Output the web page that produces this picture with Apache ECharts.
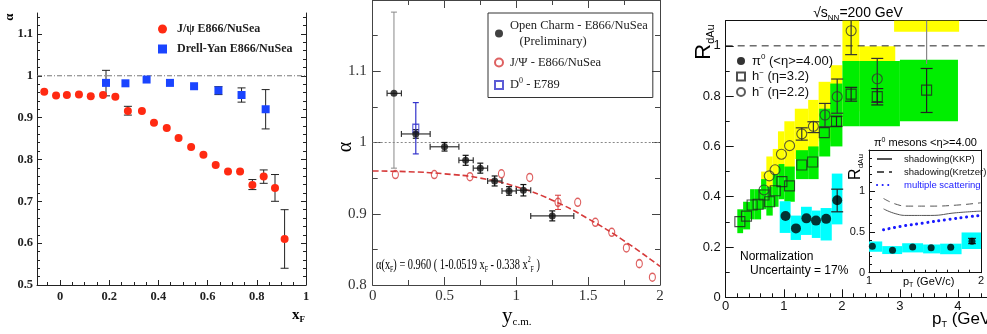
<!DOCTYPE html>
<html><head><meta charset="utf-8">
<script src="https://cdn.jsdelivr.net/npm/echarts@6.0.0/dist/echarts.min.js"></script>
<style>html,body{margin:0;padding:0;background:#fff;}#c{width:987px;height:334px;}</style>
</head><body><div id="c"></div>
<script>
// ================= Panel 1 : alpha vs x_F =================
const p1XTicks = [0, 0.2, 0.4, 0.6, 0.8, 1];
const p1YTicks = [0.5, 0.6, 0.7, 0.8, 0.9, 1, 1.1];
const p1Jpsi = [[-0.064,0.962],[-0.016,0.953],[0.028,0.954],[0.077,0.955],[0.125,0.951],[0.175,0.954],[0.225,0.950],[0.276,0.916],[0.333,0.916],[0.382,0.888],[0.434,0.875],[0.482,0.851],[0.533,0.830],[0.583,0.811],[0.633,0.787],[0.683,0.771],[0.732,0.771],[0.782,0.739],[0.828,0.759],[0.874,0.732],[0.913,0.610]];
const p1JpsiErr = [[0.276,0.906,0.927],[0.782,0.728,0.752],[0.828,0.743,0.775],[0.874,0.700,0.764],[0.913,0.540,0.680]];
const p1Dy = [[0.187,0.983],[0.266,0.982],[0.352,0.991],[0.447,0.983],[0.545,0.975],[0.644,0.965],[0.738,0.954],[0.836,0.920]];
const p1DyErr = [[0.187,0.952,1.013],[0.644,0.955,0.974],[0.738,0.937,0.971],[0.836,0.873,0.967]];
const p1Unity = [[-0.0935,1],[1,1]];

// ================= Panel 2 : alpha vs y_cm =================
const p2XTicks = [0, 0.5, 1, 1.5, 2];
const p2YTicks = [0.8, 0.9, 1, 1.1];
const p2Charm = [[0.148,1.069],[0.30,1.012],[0.50,0.994],[0.647,0.975],[0.749,0.964],[0.849,0.946],[0.949,0.932],[1.049,0.933],[1.25,0.897]];
const p2CharmYErrBig = [[0.148,0.964,1.183]];
const p2CharmYErr = [[0.30,1.006,1.018],[0.50,0.988,1.000],[0.647,0.968,0.982],[0.749,0.957,0.971],[0.849,0.939,0.953],[0.949,0.926,0.938],[1.049,0.925,0.941],[1.25,0.890,0.904]];
const p2CharmXErr = [[0.10,0.20,1.069],[0.20,0.40,1.012],[0.40,0.60,0.994],[0.60,0.70,0.975],[0.70,0.80,0.964],[0.80,0.90,0.946],[0.90,1.00,0.932],[1.00,1.10,0.933],[1.10,1.40,0.897]];
const p2Jpsi = [[0.158,0.955],[0.429,0.955],[0.677,0.952],[0.896,0.956],[1.093,0.951],[1.29,0.916],[1.427,0.916],[1.55,0.888],[1.664,0.874],[1.766,0.852],[1.856,0.830],[1.947,0.811]];
const p2JpsiErr = [[1.29,0.906,0.926]];
const p2D0 = [[0.30,1.02]];
const p2D0Err = [[0.30,0.984,1.056]];
const p2Fit = [[0,0.960],[0.25,0.959],[0.5,0.956],[0.75,0.950],[1.0,0.938],[1.25,0.919],[1.5,0.893],[1.75,0.862],[2.0,0.826]];
const p2Unity = [[0,1],[2,1]];

// ================= Panel 3 : R_dAu vs pT =================
const p3XTicks = [0, 1, 2, 3, 4];
const p3YTicks = [0, 0.2, 0.4, 0.6, 0.8, 1];
const p3Pi0 = [[1.03,0.323],[1.21,0.274],[1.39,0.314],[1.555,0.305],[1.73,0.312],[1.92,0.386]];
const p3Pi0Err = [[1.92,0.34,0.43]];
const p3Pi0Box = [[0.93,1.118,0.256,0.382],[1.118,1.296,0.228,0.325],[1.296,1.483,0.248,0.36],[1.483,1.635,0.236,0.345],[1.635,1.827,0.226,0.355],[1.827,2.01,0.29,0.492]];
const p3H32 = [[0.244,0.301],[0.358,0.323],[0.455,0.367],[0.558,0.370],[0.66,0.407],[0.757,0.380],[0.854,0.424],[0.968,0.460],[1.099,0.443],[1.31,0.526],[1.498,0.538],[1.697,0.655],[1.908,0.698],[2.16,0.808],[2.61,0.798],[3.46,0.824]];
const p3H32Err = [[1.908,0.68,0.72],[2.16,0.78,0.835],[2.61,0.765,0.83],[3.46,0.735,0.91]];
const p3H32Box = [[0.20,0.30,0.255,0.35],[0.30,0.42,0.27,0.38],[0.42,0.50,0.31,0.43],[0.50,0.61,0.31,0.43],[0.61,0.70,0.35,0.47],[0.70,0.81,0.325,0.44],[0.81,0.91,0.36,0.49],[0.91,1.01,0.39,0.53],[1.01,1.19,0.38,0.52],[1.21,1.42,0.47,0.585],[1.42,1.60,0.47,0.60],[1.61,1.80,0.56,0.75],[1.80,2.01,0.60,0.85],[2.01,2.30,0.68,0.94],[2.30,3.00,0.68,0.94],[3.00,4.00,0.70,0.945]];
const p3H22 = [[0.66,0.427],[0.75,0.483],[0.85,0.507],[0.96,0.569],[1.10,0.603],[1.31,0.650],[1.51,0.680],[1.71,0.725],[1.92,0.798],[2.16,1.06],[2.61,0.869]];
const p3H22Err = [[1.31,0.625,0.674],[1.51,0.655,0.698],[1.71,0.678,0.771],[1.92,0.732,0.868],[2.16,0.965,1.2],[2.61,0.775,0.95]];
const p3H22ErrOff = [[3.46,0.928,1.2]];
const p3H22Box = [[0.61,0.70,0.36,0.50],[0.70,0.81,0.41,0.56],[0.81,0.90,0.43,0.59],[0.90,1.01,0.48,0.66],[1.01,1.19,0.51,0.70],[1.19,1.42,0.55,0.75],[1.42,1.60,0.58,0.785],[1.60,1.81,0.62,0.857],[1.81,2.01,0.68,0.923],[2.01,2.30,0.93,1.2],[2.30,2.92,0.74,0.998],[2.90,4.02,1.056,1.2]];
const p3Unity = [[0,1],[4.5,1]];

// ---- inset
const inXTicks = [1, 2];
const inYTicks = [0, 0.5, 1];
const inKKP = [[1.13,0.78],[1.24,0.72],[1.35,0.70],[1.55,0.70],[1.78,0.733],[2.0,0.753]];
const inKretzer = [[1.13,0.907],[1.24,0.838],[1.35,0.814],[1.55,0.814],[1.78,0.826],[2.0,0.855]];
const inMultScat = [[1.13,0.525],[1.3,0.57],[1.5,0.61],[1.7,0.65],[1.9,0.685],[2.0,0.70]];
const inPi0 = p3Pi0;
const inPi0Err = [[1.92,0.355,0.42]];

// ================= helpers =================
const SERIF = '"Liberation Serif", "DejaVu Serif", serif';
const SANS = '"Liberation Sans", Arial, sans-serif';
function range(a, b, s) { const r = []; for (let i = 0; a + i * s <= b + 1e-9; i++) r.push(+(a + i * s).toFixed(4)); return r; }
function minorOf(a, b, s, major) { return range(a, b, s).filter(v => !major.some(m => Math.abs(m - v) < 1e-6)); }
function fmt(v) { return String(+(+v).toFixed(3)); }

const xAxes = [], yAxes = [];
function ax(arr, o) {
  arr.push({
    type: 'value', gridIndex: o.gi, position: o.pos, min: o.min, max: o.max,
    axisLine: { show: o.line !== false, onZero: false, lineStyle: { color: o.lc || '#222', width: o.lw || 1 } },
    axisTick: { show: !!o.ticks, inside: true, length: o.len || 5, customValues: o.ticks || [], lineStyle: { color: o.lc || '#222', width: o.tw || 1 } },
    axisLabel: Object.assign({ show: !!o.labels, customValues: o.labels || [], margin: o.margin || 4, formatter: fmt }, o.font || {}),
    splitLine: { show: false }, axisPointer: { show: false }, silent: true
  });
  return arr.length - 1;
}

function vErr(cap, color, lw) {
  return function (params, api) {
    const cs = params.coordSys;
    const x = api.value(0), lo = api.value(1), hi = api.value(2);
    const a = api.coord([x, lo]), b = api.coord([x, hi]);
    const top = cs.y, bot = cs.y + cs.height;
    const ya = Math.min(Math.max(a[1], top), bot), yb = Math.min(Math.max(b[1], top), bot);
    const st = { stroke: color, lineWidth: lw };
    const ch = [{ type: 'line', shape: { x1: a[0], y1: ya, x2: a[0], y2: yb }, style: st }];
    if (cap > 0 && b[1] > top + 0.5) ch.push({ type: 'line', shape: { x1: b[0] - cap / 2, y1: b[1], x2: b[0] + cap / 2, y2: b[1] }, style: st });
    if (cap > 0 && a[1] < bot - 0.5) ch.push({ type: 'line', shape: { x1: a[0] - cap / 2, y1: a[1], x2: a[0] + cap / 2, y2: a[1] }, style: st });
    return { type: 'group', children: ch };
  };
}
function hErr(cap, color, lw) {
  return function (params, api) {
    const a = api.coord([api.value(0), api.value(2)]), b = api.coord([api.value(1), api.value(2)]);
    const st = { stroke: color, lineWidth: lw };
    return { type: 'group', children: [
      { type: 'line', shape: { x1: a[0], y1: a[1], x2: b[0], y2: b[1] }, style: st },
      { type: 'line', shape: { x1: a[0], y1: a[1] - cap / 2, x2: a[0], y2: a[1] + cap / 2 }, style: st },
      { type: 'line', shape: { x1: b[0], y1: b[1] - cap / 2, x2: b[0], y2: b[1] + cap / 2 }, style: st }
    ] };
  };
}
function boxRender(params, api) {
  const a = api.coord([api.value(0), api.value(3)]);
  const b = api.coord([api.value(1), api.value(2)]);
  const cs = params.coordSys;
  const r = echarts.graphic.clipRectByRect({ x: a[0], y: a[1], width: b[0] - a[0], height: b[1] - a[1] }, { x: cs.x, y: cs.y, width: cs.width, height: cs.height });
  return r ? { type: 'rect', shape: r, style: { fill: api.visual('color') } } : null;
}
function custom(xi, yi, data, render, color, z, enc) {
  return { type: 'custom', xAxisIndex: xi, yAxisIndex: yi, data: data, renderItem: render, itemStyle: { color: color }, z: z, silent: true, animation: false, encode: enc };
}

// ================= axes =================
const f1 = { fontFamily: SERIF, fontWeight: 'bold', fontSize: 12.5, color: '#222' };
const p1x = ax(xAxes, { gi: 0, pos: 'bottom', min: -0.0935, max: 1, ticks: p1XTicks, len: 5, labels: p1XTicks, font: f1, margin: 5 });
ax(xAxes, { gi: 0, pos: 'bottom', min: -0.0935, max: 1, ticks: minorOf(-0.05, 1, 0.05, p1XTicks), len: 3, line: false });
const p1y = ax(yAxes, { gi: 0, pos: 'left', min: 0.5, max: 1.15, ticks: p1YTicks, len: 5, labels: p1YTicks, font: f1, margin: 4 });
ax(yAxes, { gi: 0, pos: 'left', min: 0.5, max: 1.15, ticks: minorOf(0.5, 1.14, 0.02, p1YTicks), len: 3, line: false });
ax(yAxes, { gi: 0, pos: 'right', min: 0.5, max: 1.15, ticks: p1YTicks, len: 5 });
ax(yAxes, { gi: 0, pos: 'right', min: 0.5, max: 1.15, ticks: minorOf(0.5, 1.14, 0.02, p1YTicks), len: 3, line: false });

const f2 = { fontFamily: SERIF, fontSize: 15, color: '#333' };
const p2x = ax(xAxes, { gi: 1, pos: 'bottom', min: 0, max: 2, ticks: p2XTicks, len: 8, labels: p2XTicks, font: f2, margin: 4, lc: '#444' });
ax(xAxes, { gi: 1, pos: 'bottom', min: 0, max: 2, ticks: [0.25, 0.75, 1.25, 1.75], len: 5, line: false, lc: '#444' });
ax(xAxes, { gi: 1, pos: 'top', min: 0, max: 2, ticks: p2XTicks, len: 8, lc: '#444' });
ax(xAxes, { gi: 1, pos: 'top', min: 0, max: 2, ticks: [0.25, 0.75, 1.25, 1.75], len: 5, line: false, lc: '#444' });
const p2y = ax(yAxes, { gi: 1, pos: 'left', min: 0.8, max: 1.2, ticks: p2YTicks, len: 8, labels: p2YTicks, font: f2, margin: 6, lc: '#444' });
ax(yAxes, { gi: 1, pos: 'left', min: 0.8, max: 1.2, ticks: [0.85, 0.95, 1.05, 1.15], len: 5, line: false, lc: '#444' });
ax(yAxes, { gi: 1, pos: 'right', min: 0.8, max: 1.2, ticks: p2YTicks, len: 8, lc: '#444' });
ax(yAxes, { gi: 1, pos: 'right', min: 0.8, max: 1.2, ticks: [0.85, 0.95, 1.05, 1.15], len: 5, line: false, lc: '#444' });

const f3 = { fontFamily: SANS, fontSize: 13, color: '#111' };
const p3x = ax(xAxes, { gi: 2, pos: 'bottom', min: 0, max: 4.5, ticks: p3XTicks, len: 8, labels: p3XTicks, font: f3, margin: 3, lc: '#111' });
ax(xAxes, { gi: 2, pos: 'bottom', min: 0, max: 4.5, ticks: minorOf(0, 4.4, 0.2, p3XTicks), len: 4, line: false, lc: '#111' });
ax(xAxes, { gi: 2, pos: 'top', min: 0, max: 4.5, lc: '#111' });
const p3y = ax(yAxes, { gi: 2, pos: 'left', min: 0, max: 1.1, ticks: p3YTicks, len: 8, labels: p3YTicks, font: f3, margin: 5, lc: '#111' });
ax(yAxes, { gi: 2, pos: 'left', min: 0, max: 1.1, ticks: minorOf(0, 1.1, 0.1, p3YTicks), len: 4, line: false, lc: '#111' });

const f4 = { fontFamily: SANS, fontSize: 11, color: '#111' };
const inx = ax(xAxes, { gi: 3, pos: 'bottom', min: 1, max: 2, ticks: inXTicks, len: 6, labels: inXTicks, font: f4, margin: 3, lc: '#111' });
ax(xAxes, { gi: 3, pos: 'bottom', min: 1, max: 2, ticks: minorOf(1, 2, 0.1, inXTicks), len: 3, line: false, lc: '#111' });
ax(xAxes, { gi: 3, pos: 'top', min: 1, max: 2, lc: '#111' });
const iny = ax(yAxes, { gi: 3, pos: 'left', min: 0, max: 1.5, ticks: inYTicks, len: 6, labels: inYTicks, font: f4, margin: 4, lc: '#111' });
ax(yAxes, { gi: 3, pos: 'left', min: 0, max: 1.5, ticks: minorOf(0, 1.5, 0.1, inYTicks), len: 3, line: false, lc: '#111' });
ax(yAxes, { gi: 3, pos: 'right', min: 0, max: 1.5, lc: '#111' });

// ================= series =================
const RED1 = '#ff2a12', BLUE1 = '#1a44ff';
const NOFILL = 'rgba(0,0,0,0)';
const series = [
  // panel 1
  { type: 'line', name: 'unity1', xAxisIndex: p1x, yAxisIndex: p1y, data: p1Unity, symbol: 'none', lineStyle: { color: '#777', width: 1, type: [5, 2, 1, 2] }, z: 1, silent: true },
  custom(p1x, p1y, p1JpsiErr, vErr(8, '#222', 1), '#222', 3),
  custom(p1x, p1y, p1DyErr, vErr(8, '#222', 1), '#222', 3),
  { type: 'scatter', name: 'J/ψ E866/NuSea', xAxisIndex: p1x, yAxisIndex: p1y, data: p1Jpsi, symbol: 'circle', symbolSize: 8, itemStyle: { color: RED1, opacity: 1 }, z: 5 },
  { type: 'scatter', name: 'Drell-Yan E866/NuSea', xAxisIndex: p1x, yAxisIndex: p1y, data: p1Dy, symbol: 'rect', symbolSize: 8, itemStyle: { color: BLUE1, opacity: 1 }, z: 5 },
  // panel 2
  { type: 'line', name: 'unity2', xAxisIndex: p2x, yAxisIndex: p2y, data: p2Unity, symbol: 'none', lineStyle: { color: '#888', width: 1, type: [2, 2] }, z: 1, silent: true },
  { type: 'line', name: 'fit', xAxisIndex: p2x, yAxisIndex: p2y, data: p2Fit, symbol: 'none', smooth: true, lineStyle: { color: '#d63a3a', width: 1.6, type: [6, 3] }, z: 2, silent: true },
  custom(p2x, p2y, p2CharmYErrBig, vErr(6, '#888', 1), '#888', 3),
  custom(p2x, p2y, p2CharmYErr, vErr(6, '#111', 1.2), '#111', 3),
  custom(p2x, p2y, p2CharmXErr, hErr(6, '#333', 1.2), '#333', 3, { x: [0, 1], y: 2 }),
  custom(p2x, p2y, p2JpsiErr, vErr(6, '#d63a3a', 1), '#d63a3a', 3),
  custom(p2x, p2y, p2D0Err, vErr(6, '#3333cc', 1.2), '#3333cc', 3),
  { type: 'scatter', name: 'J/Ψ - E866/NuSea', xAxisIndex: p2x, yAxisIndex: p2y, data: p2Jpsi, symbol: 'circle', symbolSize: [6, 8], itemStyle: { color: NOFILL, borderColor: '#d63a3a', borderWidth: 1.3 }, z: 4 },
  { type: 'scatter', name: 'D0 - E789', xAxisIndex: p2x, yAxisIndex: p2y, data: p2D0, symbol: 'rect', symbolSize: [6, 8], itemStyle: { color: NOFILL, borderColor: '#3333cc', borderWidth: 1.3 }, z: 4 },
  { type: 'scatter', name: 'Open Charm - E866/NuSea', xAxisIndex: p2x, yAxisIndex: p2y, data: p2Charm, symbol: 'circle', symbolSize: 7, itemStyle: { color: '#111' }, z: 5 },
  // panel 3
  custom(p3x, p3y, p3H22Box, boxRender, '#ffff00', 1, { x: [0, 1], y: [2, 3] }),
  custom(p3x, p3y, p3H32Box, boxRender, '#00ee00', 1.1, { x: [0, 1], y: [2, 3] }),
  custom(p3x, p3y, p3Pi0Box, boxRender, '#00ffff', 1.2, { x: [0, 1], y: [2, 3] }),
  { type: 'line', name: 'unity3', xAxisIndex: p3x, yAxisIndex: p3y, data: p3Unity, symbol: 'none', lineStyle: { color: '#222', width: 1, type: [7, 5] }, z: 2, silent: true },
  custom(p3x, p3y, p3H22ErrOff, vErr(0, '#888', 1.2), '#888', 3),
  custom(p3x, p3y, p3H22Err, vErr(12, '#333', 1.2), '#333', 3),
  custom(p3x, p3y, p3H32Err, vErr(12, '#222', 1.2), '#222', 3),
  custom(p3x, p3y, p3Pi0Err, vErr(12, '#222', 1.2), '#222', 3),
  { type: 'scatter', name: 'pi0', xAxisIndex: p3x, yAxisIndex: p3y, data: p3Pi0, symbol: 'circle', symbolSize: 10, itemStyle: { color: '#000' }, z: 5 },
  { type: 'scatter', name: 'h32', xAxisIndex: p3x, yAxisIndex: p3y, data: p3H32, symbol: 'rect', symbolSize: 10, itemStyle: { color: NOFILL, borderColor: '#222', borderWidth: 1.1 }, z: 5 },
  { type: 'scatter', name: 'h22', xAxisIndex: p3x, yAxisIndex: p3y, data: p3H22, symbol: 'circle', symbolSize: 10, itemStyle: { color: NOFILL, borderColor: '#333', borderWidth: 1.1 }, z: 5 },
  // inset
  custom(inx, iny, p3Pi0Box, boxRender, '#00ffff', 1, { x: [0, 1], y: [2, 3] }),
  { type: 'line', name: 'shadowing(KKP)', xAxisIndex: inx, yAxisIndex: iny, data: inKKP, symbol: 'none', smooth: true, itemStyle: { color: NOFILL }, lineStyle: { color: '#555', width: 1 }, z: 2 },
  { type: 'line', name: 'shadowing(Kretzer)', xAxisIndex: inx, yAxisIndex: iny, data: inKretzer, symbol: 'none', smooth: true, itemStyle: { color: NOFILL }, lineStyle: { color: '#555', width: 1, type: [7, 5] }, z: 2 },
  { type: 'line', name: 'multiple scattering', xAxisIndex: inx, yAxisIndex: iny, data: inMultScat, symbol: 'none', smooth: true, itemStyle: { color: NOFILL }, lineStyle: { color: '#1a1aff', width: 3, type: [0.1, 5.5], cap: 'round' }, z: 2 },
  custom(inx, iny, inPi0Err, vErr(8, '#222', 1.1), '#222', 3),
  { type: 'scatter', name: 'pi0 inset', xAxisIndex: inx, yAxisIndex: iny, data: inPi0, symbol: 'circle', symbolSize: 7, itemStyle: { color: '#000' }, z: 5 }
];

// ================= legends =================
const legends = [
  { left: 153, top: 18, orient: 'vertical', itemGap: 8, itemWidth: 9, itemHeight: 9, selectedMode: false,
    data: ['J/ψ E866/NuSea', 'Drell-Yan E866/NuSea'],
    textStyle: { fontFamily: SERIF, fontWeight: 'bold', fontSize: 12, color: '#222', padding: [0, 0, 0, 5] } },
  { left: 488, top: 13, orient: 'vertical', itemGap: 8, itemWidth: 8, itemHeight: 8, selectedMode: false,
    borderColor: '#333', borderWidth: 1, padding: [6, 5, 6, 6],
    data: ['Open Charm - E866/NuSea', 'J/Ψ - E866/NuSea', 'D0 - E789'],
    formatter: n => n === 'Open Charm - E866/NuSea' ? '{n|Open Charm - E866/NuSea}\n{n|   (Preliminary)}' : (n === 'D0 - E789' ? '{n|D}{s|0}{n| - E789}' : '{n|' + n + '}'),
    textStyle: { fontFamily: SERIF, fontSize: 12.5, color: '#222', padding: [0, 0, 0, 2],
      rich: { n: { fontFamily: SERIF, fontSize: 12.5, lineHeight: 16, color: '#222' }, s: { fontFamily: SERIF, fontSize: 8, lineHeight: 9, verticalAlign: 'top', color: '#222' } } } },
  { left: 731, top: 48, orient: 'vertical', itemGap: 1, itemWidth: 8, itemHeight: 8, selectedMode: false,
    data: ['pi0', 'h32', 'h22'],
    formatter: n => n === 'pi0' ? '{n|π}{s|0}{n| (<η>=4.00)}' : (n === 'h32' ? '{n|h}{s|−}{n| (η=3.2)}' : '{n|h}{s|−}{n| (η=2.2)}'),
    textStyle: { fontFamily: SANS, fontSize: 13, color: '#111', padding: [0, 0, 0, 2],
      rich: { n: { fontFamily: SANS, fontSize: 13, lineHeight: 16, color: '#111' }, s: { fontFamily: SANS, fontSize: 8, lineHeight: 9, verticalAlign: 'top', color: '#111' } } } },
  { left: 871, top: 148, orient: 'vertical', itemGap: 1, itemWidth: 15, itemHeight: 10, selectedMode: false,
    itemStyle: { color: NOFILL, borderWidth: 0 },
    data: ['shadowing(KKP)', 'shadowing(Kretzer)', { name: 'multiple scattering', textStyle: { color: '#1a1aff' } }],
    textStyle: { fontFamily: SANS, fontSize: 9.5, color: '#111', padding: [0, 0, 0, 7], lineHeight: 12 } }
];

// ================= text annotations =================
function txt(x, y, text, rich, extra) {
  return Object.assign({ type: 'text', x: x, y: y, silent: true, z: 10,
    style: { text: text, rich: rich, align: 'left', verticalAlign: 'middle', textAlign: 'left', textVerticalAlign: 'middle' } }, extra || {});
}
function ctr(el) { el.style.align = 'center'; el.style.textAlign = 'center'; return el; }
const graphics = [
  ctr(txt(10, 17, '{a|α}', { a: { fontFamily: SERIF, fontWeight: 'bold', fontSize: 13, color: '#222' } }, { rotation: Math.PI / 2 })),
  txt(292, 315, '{a|x}{b|F}', { a: { fontFamily: SERIF, fontWeight: 'bold', fontSize: 15, lineHeight: 18, color: '#222' }, b: { fontFamily: SERIF, fontWeight: 'bold', fontSize: 9, lineHeight: 10, verticalAlign: 'bottom', color: '#222' } }),
  ctr(txt(346, 147, '{a|α}', { a: { fontFamily: SERIF, fontSize: 20, color: '#222' } }, { rotation: Math.PI / 2 })),
  txt(502, 316, '{a|y}{b|c.m.}', { a: { fontFamily: SERIF, fontSize: 21, lineHeight: 24, color: '#222' }, b: { fontFamily: SERIF, fontSize: 11, lineHeight: 12, verticalAlign: 'bottom', color: '#222' } }),
  txt(376, 265, '{a|α(x}{b|F}{a|) = 0.960 ( 1-0.0519 x}{b|F}{a| - 0.338 x}{c|2}{b|F}{a| )}', {
    a: { fontFamily: SERIF, fontSize: 14, lineHeight: 18, color: '#d63a3a' },
    b: { fontFamily: SERIF, fontSize: 8, lineHeight: 9, verticalAlign: 'bottom', color: '#d63a3a' },
    c: { fontFamily: SERIF, fontSize: 8, lineHeight: 9, verticalAlign: 'top', color: '#d63a3a' } }, { scaleX: 0.74 }),
  ctr(txt(858, 13, '{a|√s}{b|NN}{a|=200 GeV}', { a: { fontFamily: SANS, fontSize: 14, lineHeight: 18, color: '#111' }, b: { fontFamily: SANS, fontSize: 8, lineHeight: 9, verticalAlign: 'bottom', color: '#111' } })),
  ctr(txt(704, 42, '{a|R}{b|dAu}', { a: { fontFamily: SANS, fontSize: 22, lineHeight: 24, color: '#111' }, b: { fontFamily: SANS, fontSize: 11, lineHeight: 12, verticalAlign: 'bottom', color: '#111' } }, { rotation: Math.PI / 2 })),
  txt(932, 319, '{a|p}{b|T}{a| (GeV/c)}', { a: { fontFamily: SANS, fontSize: 17, lineHeight: 20, color: '#111' }, b: { fontFamily: SANS, fontSize: 9, lineHeight: 10, verticalAlign: 'bottom', color: '#111' } }),
  txt(740, 257, '{a|Normalization}', { a: { fontFamily: SANS, fontSize: 12, color: '#111' } }),
  txt(750, 271, '{a|Uncertainty = 17%}', { a: { fontFamily: SANS, fontSize: 12, color: '#111' } }),
  txt(874, 143, '{a|π}{s|0}{a| mesons <η>=4.00}', { a: { fontFamily: SANS, fontSize: 11, lineHeight: 13, color: '#111' }, s: { fontFamily: SANS, fontSize: 7, lineHeight: 7, verticalAlign: 'top', color: '#111' } }),
  ctr(txt(856, 167, '{a|R}{b|dAu}', { a: { fontFamily: SANS, fontSize: 16, lineHeight: 18, color: '#111' }, b: { fontFamily: SANS, fontSize: 8, lineHeight: 9, verticalAlign: 'bottom', color: '#111' } }, { rotation: Math.PI / 2 })),
  txt(903, 282, '{a|p}{b|T}{a| (GeV/c)}', { a: { fontFamily: SANS, fontSize: 11, lineHeight: 13, color: '#111' }, b: { fontFamily: SANS, fontSize: 7, lineHeight: 7, verticalAlign: 'bottom', color: '#111' } })
];

const chart = echarts.init(document.getElementById('c'), null, { renderer: 'canvas' });
chart.setOption({
  animation: false,
  backgroundColor: '#fff',
  grid: [
    { left: 37, top: 13, width: 269, height: 272 },
    { left: 372.7, top: 0, width: 287.3, height: 285 },
    { left: 725.7, top: 20.7, width: 263.3, height: 276.6 },
    { left: 869, top: 150, width: 116, height: 122.7, show: true, backgroundColor: '#fff', borderWidth: 0, z: 0 }
  ],
  xAxis: xAxes, yAxis: yAxes, series: series, legend: legends, graphic: graphics
});
</script></body></html>
